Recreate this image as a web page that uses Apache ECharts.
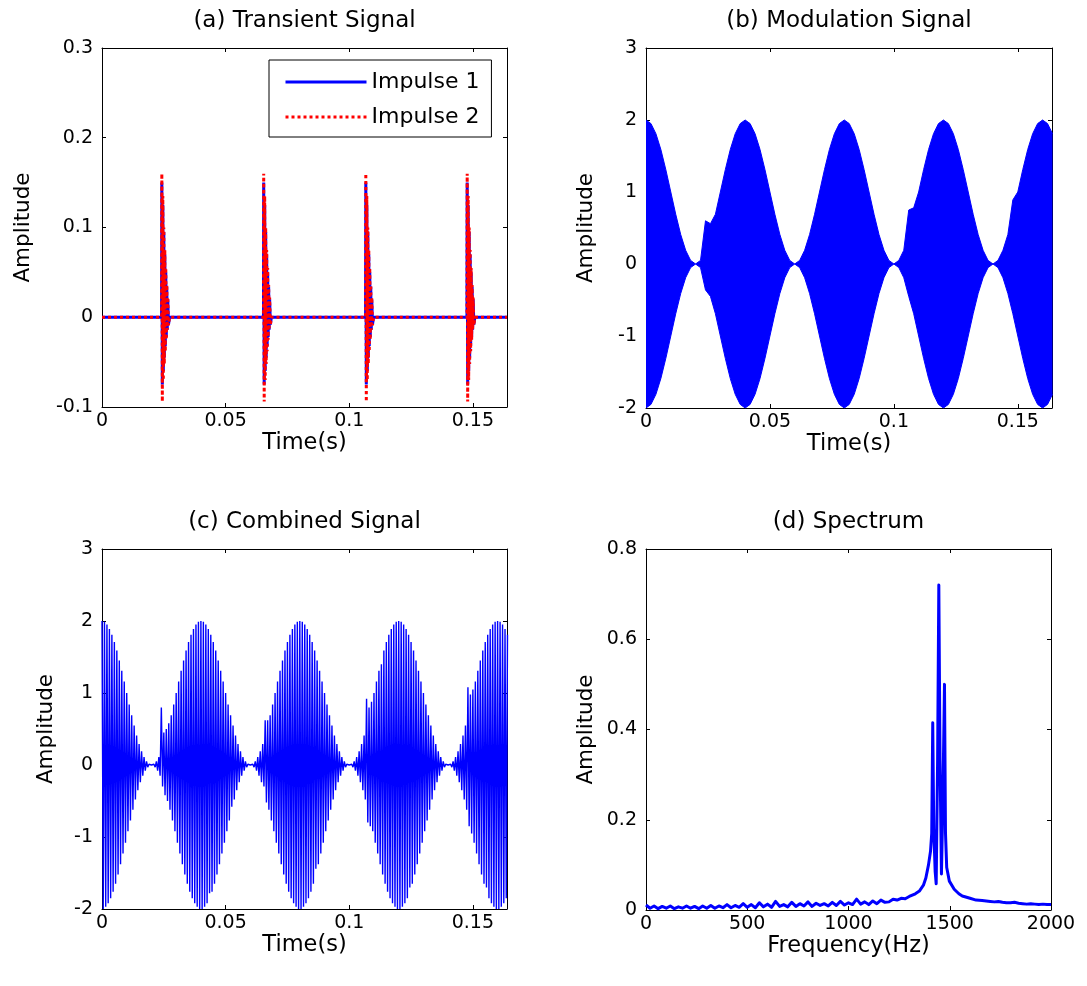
<!DOCTYPE html>
<html>
<head>
<meta charset="utf-8">
<script src="https://cdn.jsdelivr.net/npm/echarts@6/dist/echarts.min.js"></script>
<style>
html,body{margin:0;padding:0;background:#fff;}
#chart{width:1087px;height:986px;}
</style>
</head>
<body>
<div id="chart"></div>
<script>
// ---------------- data ----------------
const panelTitles = ['(a) Transient Signal', '(b) Modulation Signal', '(c) Combined Signal', '(d) Spectrum'];
const timeTicks = [0, 0.05, 0.1, 0.15];
const timeEnd = 0.1638;
const ampTicksA = [-0.1, 0, 0.1, 0.2, 0.3];
const ampTicksBC = [-2, -1, 0, 1, 2, 3];
const ampTicksD = [0, 0.2, 0.4, 0.6, 0.8];
const freqTicks = [0, 500, 1000, 1500, 2000];

// (a) transient bursts: onset times and the decaying ringing after each onset
const impulseOnsets = [0.0241, 0.0653, 0.1066, 0.1476];
const burstOffsets = [0, 0.0001, 0.0003, 0.0005, 0.0007, 0.0009, 0.0011, 0.0013, 0.0015, 0.0017, 0.0019, 0.0021, 0.0023, 0.0025, 0.0028, 0.0032];
const impulse1 = [0, 0.150, -0.075, 0.125, -0.060, 0.095, -0.045, 0.070, -0.032, 0.050, -0.022, 0.034, -0.014, 0.020, -0.008, 0];
const impulse2 = [0, 0.160, -0.094, 0.135, -0.070, 0.100, -0.052, 0.075, -0.038, 0.055, -0.025, 0.036, -0.014, 0.022, -0.009, 0];

// (b) modulation signal envelope, sampled every 2 ms
const envStep = 0.002;
const modUpper = [
  2.00,1.95,1.81,1.59,1.31,1.00,0.69,0.41,0.19,0.05, 0.00,0.05,0.60,0.56,0.69,1.00,1.31,1.59,1.81,1.95,
  2.00,1.95,1.81,1.59,1.31,1.00,0.69,0.41,0.19,0.05, 0.00,0.05,0.19,0.41,0.69,1.00,1.31,1.59,1.81,1.95,
  2.00,1.95,1.81,1.59,1.31,1.00,0.69,0.41,0.19,0.05, 0.00,0.05,0.19,0.75,0.78,1.00,1.31,1.59,1.81,1.95,
  2.00,1.95,1.81,1.59,1.31,1.00,0.69,0.41,0.19,0.05, 0.00,0.05,0.19,0.41,0.89,1.00,1.31,1.59,1.81,1.95,
  2.00,1.95,1.81
];
const modLower = [
  -2.00,-1.95,-1.81,-1.59,-1.31,-1.00,-0.69,-0.41,-0.19,-0.05, 0.00,-0.05,-0.36,-0.45,-0.69,-1.00,-1.31,-1.59,-1.81,-1.95,
  -2.00,-1.95,-1.81,-1.59,-1.31,-1.00,-0.69,-0.41,-0.19,-0.05, 0.00,-0.05,-0.19,-0.41,-0.69,-1.00,-1.31,-1.59,-1.81,-1.95,
  -2.00,-1.95,-1.81,-1.59,-1.31,-1.00,-0.69,-0.41,-0.19,-0.05, 0.00,-0.05,-0.19,-0.45,-0.69,-1.00,-1.31,-1.59,-1.81,-1.95,
  -2.00,-1.95,-1.81,-1.59,-1.31,-1.00,-0.69,-0.41,-0.19,-0.05, 0.00,-0.05,-0.19,-0.41,-0.69,-1.00,-1.31,-1.59,-1.81,-1.95,
  -2.00,-1.95,-1.81
];

// (c) combined signal, carrier peaks every 0.5 ms
const sampleStep = 0.0005;
const combinedSignal = [
  2.00,-2.00,1.99,-1.97,1.95,-1.92,1.89,-1.85,1.81,-1.76,
  1.71,-1.65,1.59,-1.52,1.45,-1.38,1.31,-1.23,1.16,-1.08,
  1.00,-0.92,0.84,-0.77,0.69,-0.62,0.55,-0.48,0.41,-0.35,
  0.29,-0.24,0.19,-0.15,0.11,-0.08,0.05,-0.03,0.01,0,
  0,0,0.01,-0.03,0.05,-0.08,0.11,-0.15,0.80,-0.30,
  0.45,-0.42,0.50,-0.50,0.58,-0.62,0.69,-0.77,0.84,-0.92,
  1.00,-1.08,1.16,-1.23,1.31,-1.38,1.45,-1.52,1.59,-1.65,
  1.71,-1.76,1.81,-1.85,1.89,-1.92,1.95,-1.97,1.99,-2.00,

  2.00,-2.00,1.99,-1.97,1.95,-1.92,1.89,-1.78,1.81,-1.76,
  1.71,-1.65,1.59,-1.52,1.45,-1.38,1.31,-1.23,1.16,-1.08,
  1.00,-0.92,0.84,-0.77,0.69,-0.58,0.55,-0.48,0.41,-0.35,
  0.29,-0.24,0.19,-0.15,0.11,-0.08,0.05,-0.03,0.01,0,
  0,0,0.01,-0.03,0.05,-0.08,0.11,-0.15,0.19,-0.24,
  0.29,-0.30,0.62,-0.52,0.62,-0.62,0.69,-0.77,0.84,-0.92,
  1.00,-1.08,1.16,-1.23,1.31,-1.38,1.45,-1.52,1.59,-1.65,
  1.71,-1.76,1.81,-1.85,1.89,-1.92,1.95,-1.97,1.99,-2.00,

  2.00,-2.00,1.99,-1.97,1.95,-1.92,1.89,-1.85,1.81,-1.76,
  1.71,-1.65,1.59,-1.44,1.45,-1.38,1.31,-1.23,1.16,-1.08,
  1.00,-0.92,0.84,-0.77,0.69,-0.62,0.55,-0.48,0.41,-0.35,
  0.29,-0.24,0.19,-0.15,0.11,-0.08,0.05,-0.03,0.01,0,
  0,0,0.01,-0.03,0.05,-0.08,0.11,-0.15,0.19,-0.24,
  0.29,-0.35,0.41,-0.48,0.92,-0.80,0.80,-0.85,0.88,-0.92,
  1.00,-1.08,1.16,-1.23,1.31,-1.38,1.40,-1.52,1.59,-1.65,
  1.71,-1.76,1.81,-1.85,1.89,-1.92,1.95,-1.97,1.99,-2.00,

  2.00,-2.00,1.99,-1.97,1.95,-1.92,1.89,-1.85,1.81,-1.70,
  1.71,-1.65,1.59,-1.52,1.45,-1.38,1.31,-1.23,1.16,-1.08,
  1.00,-0.92,0.84,-0.77,0.69,-0.62,0.55,-0.48,0.41,-0.35,
  0.29,-0.24,0.19,-0.15,0.11,-0.08,0.05,-0.03,0.01,0,
  0,0,0.01,-0.03,0.05,-0.08,0.11,-0.15,0.19,-0.24,
  0.29,-0.35,0.41,-0.48,0.55,-0.62,1.08,-0.85,0.98,-0.95,
  1.05,-1.08,1.16,-1.23,1.31,-1.38,1.45,-1.52,1.59,-1.65,
  1.71,-1.70,1.81,-1.85,1.89,-1.92,1.95,-1.97,1.99,-2.00,

  2.00,-2.00,1.99,-1.97,1.95,-1.92,1.89,-1.85,1.81
];

// (d) amplitude spectrum
const specFreq = [
  0,20,40,60,80,100,120,140,160,180,
  200,220,240,260,280,300,320,340,360,380,
  400,420,440,460,480,500,520,540,560,580,
  600,620,640,660,680,700,720,740,760,780,
  800,820,840,860,880,900,920,940,960,980,
  1000,1020,1040,1060,1080,1100,1120,1140,1160,1180,
  1200,1220,1240,1260,1280,1300,1330,1350,1370,1382,
  1395,1405,1411,1416,1421,1428,1433,1440,1446,1452,
  1459,1466,1474,1479,1485,1498,1522,1545,1562,1600,
  1630,1660,1680,1700,1720,1740,1760,1780,1800,1820,
  1840,1860,1880,1900,1920,1940,1960,1980,2000
];
const specAmp = [
  0.011,0.004,0.009,0.003,0.008,0.004,0.009,0.003,0.007,0.004,
  0.009,0.004,0.008,0.003,0.009,0.004,0.010,0.004,0.009,0.005,
  0.012,0.005,0.010,0.006,0.014,0.006,0.012,0.005,0.016,0.007,
  0.013,0.006,0.019,0.008,0.012,0.007,0.017,0.008,0.014,0.009,
  0.018,0.008,0.015,0.010,0.014,0.009,0.017,0.010,0.019,0.011,
  0.016,0.012,0.024,0.013,0.018,0.012,0.020,0.014,0.022,0.017,
  0.018,0.024,0.022,0.026,0.025,0.030,0.036,0.042,0.055,0.071,
  0.100,0.130,0.170,0.415,0.180,0.085,0.058,0.330,0.720,0.330,
  0.080,0.240,0.500,0.170,0.094,0.064,0.046,0.036,0.031,0.026,
  0.022,0.021,0.020,0.019,0.018,0.019,0.017,0.016,0.016,0.017,
  0.015,0.014,0.013,0.014,0.013,0.012,0.013,0.012,0.012
];

// ---------------- layout / style ----------------
const FONT = 'DejaVu Sans';
const BLUE = '#0000ff';
const RED = '#ff0000';
const grids = [
  { left: 102, top: 48, width: 405, height: 359 },
  { left: 646, top: 48, width: 406, height: 360 },
  { left: 102, top: 549, width: 405, height: 360 },
  { left: 646, top: 549, width: 405, height: 361 }
];

const fmt = v => String(+v.toFixed(4));

function tickSet(ticks) {
  return { min: ticks[0], max: ticks[ticks.length - 1], interval: +(ticks[1] - ticks[0]).toFixed(6) };
}

function baseAxis(g, range, extra) {
  return Object.assign({
    type: 'value',
    gridIndex: g,
    min: range.min,
    max: range.max,
    interval: range.interval,
    splitLine: { show: false },
    axisLine: { show: true, onZero: false, lineStyle: { color: '#000', width: 1 } },
    axisTick: { show: true, inside: true, length: 4, lineStyle: { color: '#000', width: 1 } }
  }, extra);
}

const timeRange = { min: timeTicks[0], max: timeEnd, interval: timeTicks[1] - timeTicks[0] };
const xRanges = [timeRange, timeRange, timeRange, tickSet(freqTicks)];
const xNames = ['Time(s)', 'Time(s)', 'Time(s)', 'Frequency(Hz)'];
const yRanges = [tickSet(ampTicksA), tickSet(ampTicksBC), tickSet(ampTicksBC), tickSet(ampTicksD)];
const yNameGaps = [68, 49, 45, 49];

const xAxes = [], yAxes = [];
grids.forEach((gr, g) => {
  xAxes.push(baseAxis(g, xRanges[g], {
    position: 'bottom',
    name: xNames[g],
    nameLocation: 'middle',
    nameGap: 19,
    nameTextStyle: { fontFamily: FONT, fontSize: 22.5, color: '#000' },
    axisLabel: { show: true, fontFamily: FONT, fontSize: 19, color: '#000', margin: 5, formatter: fmt, showMaxLabel: g === 3, showMinLabel: true }
  }));
  xAxes.push(baseAxis(g, xRanges[g], { position: 'top', axisLabel: { show: false } }));
  yAxes.push(baseAxis(g, yRanges[g], {
    position: 'left',
    name: 'Amplitude',
    nameLocation: 'middle',
    nameGap: yNameGaps[g],
    nameTextStyle: { fontFamily: FONT, fontSize: 21.5, color: '#000' },
    axisLabel: { show: true, fontFamily: FONT, fontSize: 19, color: '#000', margin: 9, formatter: fmt }
  }));
  yAxes.push(baseAxis(g, yRanges[g], { position: 'right', axisLabel: { show: false } }));
});

// build series points from the arrays above
function burstPoints(values) {
  const pts = [[0, 0]];
  impulseOnsets.forEach(t0 => {
    burstOffsets.forEach((dt, j) => pts.push([t0 + dt, values[j]]));
  });
  pts.push([timeEnd, 0]);
  return pts;
}
const upperPts = modUpper.map((v, i) => [i * envStep, v]);
const lowerPts = modLower.map((v, i) => [i * envStep, v]);
const combinedPts = combinedSignal.map((v, i) => [i * sampleStep, v]);
const spectrumPts = specFreq.map((f, i) => [f, specAmp[i]]);

const lineBase = { type: 'line', showSymbol: false, symbol: 'none', animation: false, silent: true };

const series = [
  Object.assign({}, lineBase, {
    name: 'Impulse 1', xAxisIndex: 0, yAxisIndex: 0, data: burstPoints(impulse1), z: 2,
    lineStyle: { color: BLUE, width: 3 }, itemStyle: { color: BLUE }
  }),
  Object.assign({}, lineBase, {
    name: 'Impulse 2', xAxisIndex: 0, yAxisIndex: 0, data: burstPoints(impulse2), z: 3,
    lineStyle: { color: RED, width: 3, type: 'dotted' }, itemStyle: { color: RED }
  }),
  Object.assign({}, lineBase, {
    xAxisIndex: 2, yAxisIndex: 2, data: upperPts,
    lineStyle: { color: BLUE, width: 1 }, areaStyle: { color: BLUE, opacity: 1 }
  }),
  Object.assign({}, lineBase, {
    xAxisIndex: 2, yAxisIndex: 2, data: lowerPts,
    lineStyle: { color: BLUE, width: 1 }, areaStyle: { color: BLUE, opacity: 1 }
  }),
  Object.assign({}, lineBase, {
    xAxisIndex: 4, yAxisIndex: 4, data: combinedPts,
    lineStyle: { color: BLUE, width: 1.4 }
  }),
  Object.assign({}, lineBase, {
    xAxisIndex: 6, yAxisIndex: 6, data: spectrumPts,
    lineStyle: { color: BLUE, width: 3, join: 'round' }
  })
];

const titleGraphics = panelTitles.map((t, g) => ({
  type: 'text',
  x: grids[g].left + grids[g].width / 2,
  y: grids[g].top - 27,
  style: { text: t, font: '23px "DejaVu Sans"', fill: '#000', align: 'center', verticalAlign: 'middle' }
}));

const chart = echarts.init(document.getElementById('chart'), null, { renderer: 'canvas' });
chart.setOption({
  animation: false,
  backgroundColor: '#fff',
  grid: grids.map(g => Object.assign({ containLabel: false }, g)),
  xAxis: xAxes,
  yAxis: yAxes,
  legend: {
    data: ['Impulse 1', 'Impulse 2'],
    orient: 'vertical',
    left: 269,
    top: 60,
    padding: [11, 12, 9, 15],
    itemWidth: 81,
    itemHeight: 14,
    itemGap: 13,
    borderColor: '#000',
    borderWidth: 1,
    backgroundColor: '#fff',
    selectedMode: false,
    itemStyle: { opacity: 0 },
    lineStyle: { width: 3 },
    textStyle: { fontFamily: FONT, fontSize: 22, color: '#000', lineHeight: 22 }
  },
  graphic: titleGraphics,
  series: series
});
</script>
</body>
</html>
